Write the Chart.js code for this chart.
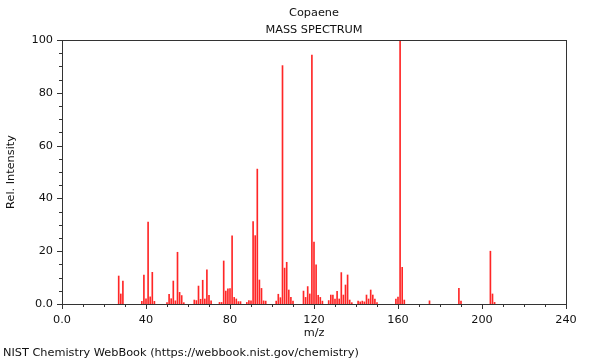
<!DOCTYPE html>
<html lang="en">
<head>
    <meta charset="UTF-8">
    <title>Copaene Mass Spectrum</title>
    <script src="https://cdn.jsdelivr.net/npm/chart.js"></script>
    <style>
        html, body { margin: 0; padding: 0; background: #fff; }
        .chart-container { width: 600px; height: 360px; position: relative; }
    </style>
</head>
<body>
    <div class="chart-container">
        <canvas id="spectrumChart"></canvas>
    </div>

    <script>
        const chartTitle = 'Copaene';
        const chartSubtitle = 'MASS SPECTRUM';
        const xTitle = 'm/z';
        const yTitle = 'Rel. Intensity';
        const footer = 'NIST Chemistry WebBook (https://webbook.nist.gov/chemistry)';

        const mz = [27, 28, 29, 38, 39, 40, 41, 42, 43, 44,
            50, 51, 52, 53, 54, 55, 56, 57, 58,
            63, 64, 65, 66, 67, 68, 69, 70, 71,
            75, 76, 77, 78, 79, 80, 81, 82, 83, 84, 85,
            88, 89, 90, 91, 92, 93, 94, 95, 96, 97,
            102, 103, 104, 105, 106, 107, 108, 109, 110,
            115, 116, 117, 118, 119, 120, 121, 122, 123, 124,
            127, 128, 129, 130, 131, 132, 133, 134, 135, 136, 137, 138,
            141, 142, 143, 144, 145, 146, 147, 148, 149, 150,
            159, 160, 161, 162, 163, 175, 189, 190, 204, 205, 206];
        const intensity = [10.6, 3.8, 8.7, 1.0, 11.0, 2.0, 31.0, 2.7, 12.0, 1.0,
            0.5, 3.7, 2.0, 8.7, 1.2, 19.6, 4.4, 3.2, 0.5,
            1.5, 1.3, 6.8, 1.8, 9.0, 1.9, 12.9, 3.3, 1.2,
            0.6, 0.6, 16.3, 4.9, 5.7, 5.8, 25.8, 2.5, 1.9, 0.9, 0.9,
            0.6, 1.3, 1.2, 31.2, 25.9, 51.1, 9.1, 5.9, 1.2, 1.1,
            1.1, 3.7, 2.4, 90.3, 13.6, 15.8, 5.3, 2.5, 1.1,
            4.9, 2.5, 6.6, 3.8, 94.3, 23.5, 14.8, 3.3, 2.5, 1.1,
            1.3, 3.4, 3.4, 1.9, 4.8, 1.9, 11.9, 3.4, 7.2, 11.0, 1.5, 0.5,
            1.1, 0.8, 1.1, 0.8, 3.4, 1.9, 5.3, 3.4, 1.9, 0.5,
            1.9, 2.6, 100, 13.9, 1.5, 1.2, 5.9, 1.1, 20.0, 3.8, 0.6];

        const xMin = 0, xMax = 240, xMajor = 40, xMinor = 10;
        const yMin = 0, yMax = 100, yMajor = 20, yMinor = 5;

        const FONT = '"DejaVu Sans", sans-serif';
        const FONT_SIZE = 11.3;
        const AXIS_COLOR = '#333';
        const TEXT_COLOR = '#111';

        // frame, minor/major tick marks and the texts
        const decorations = {
            id: 'decorations',
            afterDraw(chart) {
                const ctx = chart.ctx;
                const area = chart.chartArea;
                const xs = chart.scales.x;
                const ys = chart.scales.y;
                ctx.save();
                ctx.strokeStyle = AXIS_COLOR;
                ctx.lineWidth = 1;
                ctx.strokeRect(Math.round(area.left) + 0.5, Math.round(area.top) + 0.5,
                    Math.round(area.right - area.left), Math.round(area.bottom - area.top));

                ctx.beginPath();
                for (let v = xMin; v <= xMax; v += xMinor) {
                    const px = Math.round(xs.getPixelForValue(v)) + 0.5;
                    const len = v % xMajor === 0 ? 5 : 3;
                    ctx.moveTo(px, area.bottom);
                    ctx.lineTo(px, area.bottom + len);
                }
                for (let v = yMin; v <= yMax; v += yMinor) {
                    const py = Math.round(ys.getPixelForValue(v)) + 0.5;
                    const len = v % yMajor === 0 ? 5 : 3;
                    ctx.moveTo(area.left, py);
                    ctx.lineTo(area.left - len, py);
                }
                ctx.stroke();

                ctx.fillStyle = TEXT_COLOR;
                ctx.font = FONT_SIZE + 'px ' + FONT;
                ctx.textAlign = 'center';
                ctx.textBaseline = 'middle';
                const cx = (area.left + area.right) / 2;
                ctx.fillText(chartTitle, cx, 13);
                ctx.fillText(chartSubtitle, cx, 30);
                ctx.fillText(xTitle, cx, 333);

                ctx.save();
                ctx.translate(11, (area.top + area.bottom) / 2);
                ctx.rotate(-Math.PI / 2);
                ctx.fillText(yTitle, 0, 0);
                ctx.restore();

                ctx.textAlign = 'left';
                ctx.fillText(footer, 3, 353);
                ctx.restore();
            }
        };

        const ctx = document.getElementById('spectrumChart').getContext('2d');
        new Chart(ctx, {
            type: 'bar',
            data: {
                datasets: [{
                    data: mz.map((m, i) => ({ x: m, y: intensity[i] })),
                    backgroundColor: 'rgba(255, 0, 0, 0.85)',
                    borderWidth: 0,
                    barThickness: 1
                }]
            },
            options: {
                responsive: true,
                maintainAspectRatio: false,
                animation: false,
                layout: { padding: { left: 0, top: 40, right: 34, bottom: 0 } },
                plugins: {
                    legend: { display: false },
                    tooltip: { enabled: false },
                    title: { display: false }
                },
                scales: {
                    x: {
                        type: 'linear',
                        min: xMin,
                        max: xMax,
                        offset: false,
                        grid: { display: false, drawTicks: false },
                        border: { display: false },
                        ticks: {
                            stepSize: xMajor,
                            padding: 9,
                            color: TEXT_COLOR,
                            font: { family: FONT, size: FONT_SIZE },
                            maxRotation: 0,
                            callback: v => v === 0 ? '0.0' : String(v)
                        },
                        afterFit: s => { s.height = 56; }
                    },
                    y: {
                        min: yMin,
                        max: yMax,
                        grid: { display: false, drawTicks: false },
                        border: { display: false },
                        ticks: {
                            stepSize: yMajor,
                            padding: 9,
                            color: TEXT_COLOR,
                            font: { family: FONT, size: FONT_SIZE },
                            callback: v => v === 0 ? '0.0' : String(v)
                        },
                        afterFit: s => { s.width = 62; }
                    }
                }
            },
            plugins: [decorations]
        });
    </script>
</body>
</html>
